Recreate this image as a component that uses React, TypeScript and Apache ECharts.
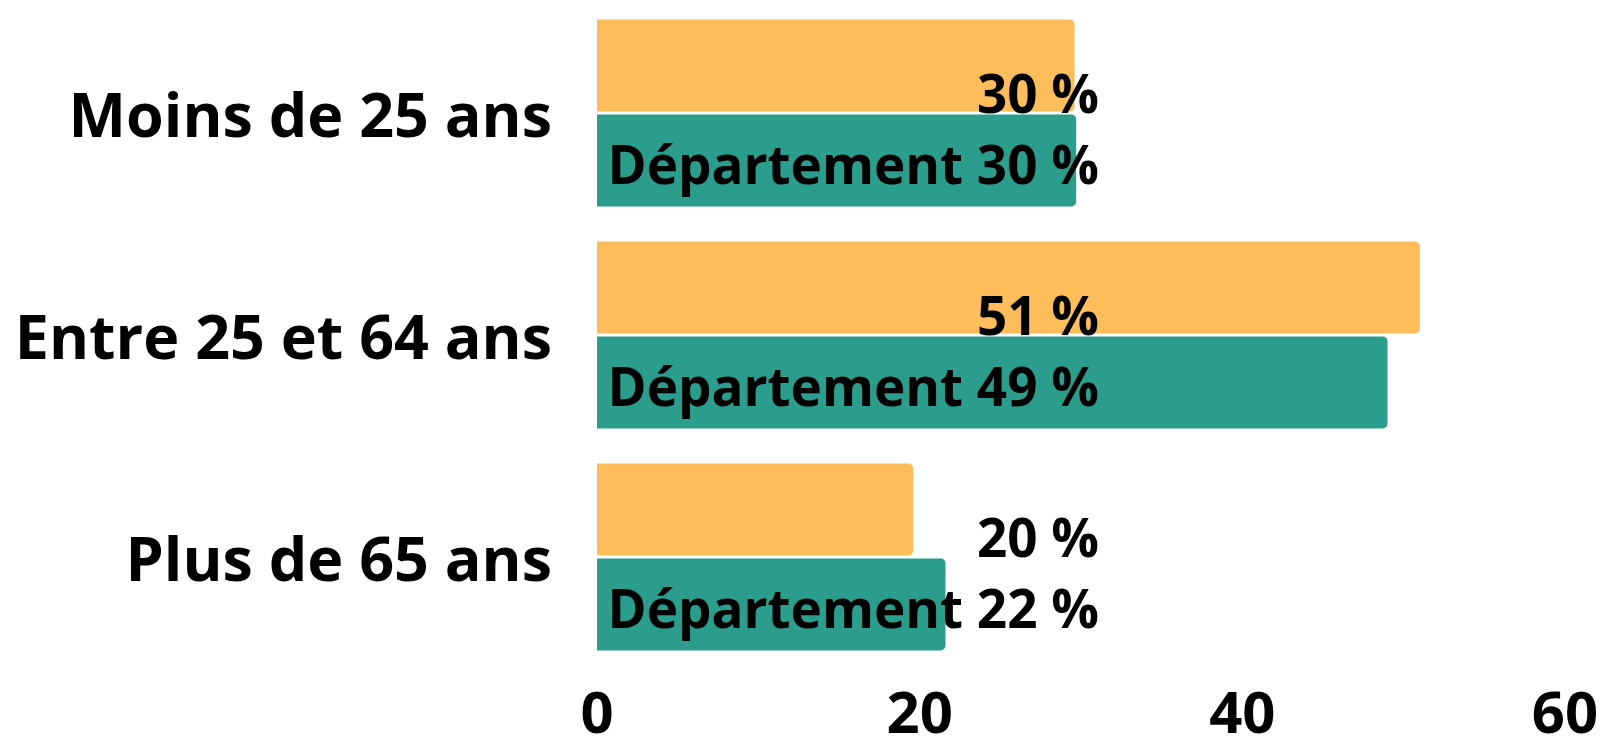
import React, { useEffect, useRef } from "react";
import * as echarts from "echarts";

const categories = ["Moins de 25 ans", "Entre 25 et 64 ans", "Plus de 65 ans"];
const communeValues = [29.6, 51.0, 19.6];
const departementValues = [29.7, 49.0, 21.6];
const xTicks = [0, 20, 40, 60];

const FONT = "'Open Sans', 'Noto Sans', sans-serif";

export default function App() {
  const ref = useRef<HTMLDivElement>(null);
  useEffect(() => {
    if (!ref.current) return;
    const chart = echarts.init(ref.current, undefined, { renderer: "svg" });
    chart.setOption({
      animation: false,
      grid: { left: 597, right: 39, top: 2, bottom: 67, containLabel: false },
      xAxis: {
        type: "value",
        min: xTicks[0],
        max: xTicks[xTicks.length - 1],
        interval: 20,
        axisLine: { show: false },
        axisTick: { show: false },
        splitLine: { show: false },
        axisLabel: {
          color: "#000",
          fontFamily: FONT,
          fontWeight: "bold",
          fontSize: 58,
          margin: 13,
        },
      },
      yAxis: {
        type: "category",
        data: categories,
        inverse: true,
        axisLine: { show: false },
        axisTick: { show: false },
        axisLabel: {
          color: "#000",
          fontFamily: FONT,
          fontWeight: "bold",
          fontSize: 61,
          margin: 45,
        },
      },
      series: [
        {
          type: "bar",
          name: "Commune",
          data: communeValues,
          barWidth: 92,
          barGap: "3%",
          itemStyle: { color: "#FDBD5B", borderRadius: [0, 5, 5, 0] },
          label: {
            show: true,
            position: [502, "50%"],
            offset: [0, 27],
            align: "right",
            verticalAlign: "middle",
            color: "#000",
            fontFamily: FONT,
            fontWeight: "bold",
            fontSize: 53,
            formatter: (p: any) => `${Math.round(p.value)} %`,
          },
        },
        {
          type: "bar",
          name: "Département",
          data: departementValues,
          barWidth: 92,
          barGap: "3%",
          itemStyle: { color: "#2B9D8D", borderRadius: [0, 5, 5, 0] },
          label: {
            show: true,
            position: [502, "50%"],
            offset: [0, 3],
            align: "right",
            verticalAlign: "middle",
            color: "#000",
            fontFamily: FONT,
            fontWeight: "bold",
            fontSize: 53,
            formatter: (p: any) => `Département ${Math.round(p.value)} %`,
          },
        },
      ],
    });
    return () => chart.dispose();
  }, []);
  return (
    <div
      ref={ref}
      style={{ position: "fixed", left: 0, top: 0, width: 1604, height: 739, background: "#fff" }}
    />
  );
}
